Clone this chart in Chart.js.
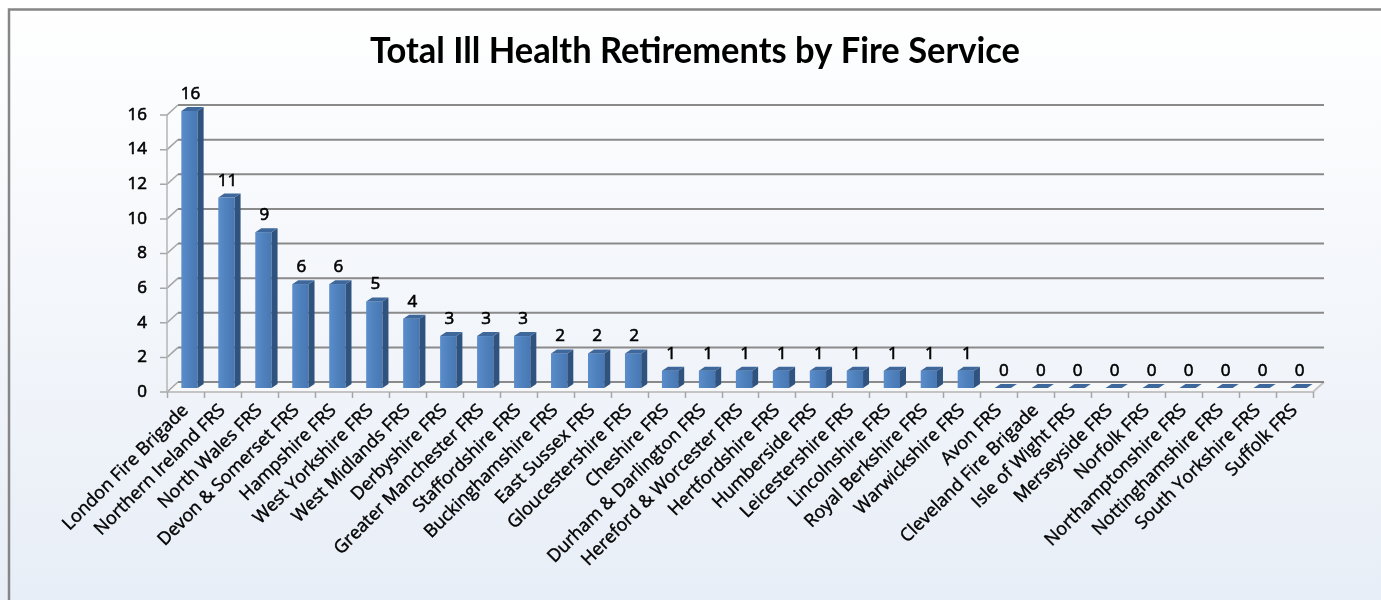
<!DOCTYPE html>
<html>
<head>
<meta charset="utf-8">
<script src="https://cdn.jsdelivr.net/npm/chart.js@4.4.1/dist/chart.umd.min.js"></script>
<style>
html, body { margin: 0; padding: 0; background: #fff; }
#wrap { width: 1381px; height: 600px; }
</style>
</head>
<body>
<div id="wrap"><canvas id="chart" width="1381" height="600"></canvas></div>
<script>
const chartTitle = 'Total Ill Health Retirements by Fire Service';

const services = [
    'London Fire Brigade', 'Northern Ireland FRS', 'North Wales FRS', 'Devon & Somerset FRS',
    'Hampshire FRS', 'West Yorkshire FRS', 'West Midlands FRS', 'Derbyshire FRS',
    'Greater Manchester FRS', 'Staffordshire FRS', 'Buckinghamshire FRS', 'East Sussex FRS',
    'Gloucestershire FRS', 'Cheshire FRS', 'Durham & Darlington FRS', 'Hereford & Worcester FRS',
    'Hertfordshire FRS', 'Humberside FRS', 'Leicestershire FRS', 'Lincolnshire FRS',
    'Royal Berkshire FRS', 'Warwickshire FRS', 'Avon FRS', 'Cleveland Fire Brigade',
    'Isle of Wight FRS', 'Merseyside FRS', 'Norfolk FRS', 'Northamptonshire FRS',
    'Nottinghamshire FRS', 'South Yorkshire FRS', 'Suffolk FRS'
];

const retirements = [
    16, 11, 9, 6, 6, 5, 4, 3, 3, 3, 2, 2, 2, 1, 1, 1,
    1, 1, 1, 1, 1, 1, 0, 0, 0, 0, 0, 0, 0, 0, 0
];

const yTicks = [0, 2, 4, 6, 8, 10, 12, 14, 16];

// depth of the back wall and of each bar (pixels)
const wall = { dx: 11, dy: -10 };
const shift = { dx: 4, dy: -4 };
const barDepth = { dx: 6, dy: -4 };

const titleFont = 'Lato, "Open Sans", sans-serif';
const labelFont = '"Open Sans", Lato, sans-serif';

function poly(ctx, pts, fill) {
    ctx.beginPath();
    ctx.moveTo(pts[0][0], pts[0][1]);
    for (let i = 1; i < pts.length; i++) ctx.lineTo(pts[i][0], pts[i][1]);
    ctx.closePath();
    ctx.fillStyle = fill;
    ctx.fill();
}

const frame3d = {
    id: 'frame3d',
    beforeDraw(chart) {
        const ctx = chart.ctx;
        const w = chart.width, h = chart.height;
        ctx.save();
        const bg = ctx.createLinearGradient(0, 0, 0, h);
        bg.addColorStop(0, '#ffffff');
        bg.addColorStop(1, '#e8eef7');
        ctx.fillStyle = bg;
        ctx.fillRect(0, 0, w, h);
        // outer border (top and left visible)
        ctx.strokeStyle = '#868686';
        ctx.lineWidth = 2.5;
        ctx.beginPath();
        ctx.moveTo(9, h);
        ctx.lineTo(9, 9.5);
        ctx.lineTo(w, 9.5);
        ctx.stroke();
        // title
        ctx.font = 'bold 36px ' + titleFont;
        const tw = ctx.measureText(chartTitle).width;
        ctx.translate(695, 63);
        ctx.scale(650 / tw, 1);
        ctx.fillStyle = '#000';
        ctx.textAlign = 'center';
        ctx.textBaseline = 'alphabetic';
        ctx.fillText(chartTitle, 0, 0);
        ctx.restore();
    },
    beforeDatasetsDraw(chart) {
        const ctx = chart.ctx;
        const a = chart.chartArea;
        const ys = chart.scales.y;
        ctx.save();
        // floor
        poly(ctx, [[a.left, a.bottom], [a.right, a.bottom], [a.right + wall.dx, a.bottom + wall.dy], [a.left + wall.dx, a.bottom + wall.dy]], '#f7f8fa');
        ctx.strokeStyle = '#c4c4c4';
        ctx.lineWidth = 2;
        ctx.beginPath();
        ctx.moveTo(a.left, a.bottom);
        ctx.lineTo(a.right, a.bottom);
        ctx.lineTo(a.right + wall.dx, a.bottom + wall.dy);
        ctx.stroke();
        // back wall grid lines
        yTicks.forEach(v => {
            const y = ys.getPixelForValue(v);
            ctx.strokeStyle = '#8a8a8a';
            ctx.lineWidth = 2;
            ctx.beginPath();
            ctx.moveTo(a.left + wall.dx, y + wall.dy);
            ctx.lineTo(a.right + wall.dx, y + wall.dy);
            ctx.stroke();
            // side wall connector and tick
            ctx.strokeStyle = '#a6a6a6';
            ctx.lineWidth = 1.5;
            ctx.beginPath();
            ctx.moveTo(a.left - 7, y);
            ctx.lineTo(a.left, y);
            ctx.lineTo(a.left + wall.dx, y + wall.dy);
            ctx.stroke();
        });
        // y axis line
        ctx.strokeStyle = '#b5b5b5';
        ctx.lineWidth = 1.5;
        ctx.beginPath();
        ctx.moveTo(a.left, a.top);
        ctx.lineTo(a.left, a.bottom);
        ctx.stroke();
        // x tick marks at category edges
        ctx.strokeStyle = '#a6a6a6';
        const step = (a.right - a.left) / services.length;
        for (let i = 0; i <= services.length; i++) {
            const x = Math.round(a.left + i * step) + 0.5;
            ctx.beginPath();
            ctx.moveTo(x, a.bottom);
            ctx.lineTo(x, a.bottom + 6);
            ctx.stroke();
        }
        ctx.restore();
    },
    afterDatasetsDraw(chart) {
        const ctx = chart.ctx;
        const meta = chart.getDatasetMeta(0);
        ctx.save();
        meta.data.forEach((bar, i) => {
            const bw = bar.width;
            const left = bar.x - bw / 2 + shift.dx;
            const right = left + bw;
            const top = bar.y + shift.dy;
            const bottom = bar.base + shift.dy;
            if (bottom - top > 0.5) {
                const g = ctx.createLinearGradient(left, 0, right, 0);
                g.addColorStop(0, '#5a8dcb');
                g.addColorStop(0.5, '#4f81bd');
                g.addColorStop(1, '#4878b3');
                ctx.fillStyle = g;
                ctx.fillRect(left, top, bw, bottom - top);
                poly(ctx, [[right, top], [right + barDepth.dx, top + barDepth.dy], [right + barDepth.dx, bottom + barDepth.dy], [right, bottom]], '#2f527f');
            }
            poly(ctx, [[left, top], [left + barDepth.dx, top + barDepth.dy], [right + barDepth.dx, top + barDepth.dy], [right, top]], '#3e679b');
            // value label
            const tx = bar.x + shift.dx + 1;
            const ty = top + barDepth.dy - 8;
            ctx.font = '17px ' + labelFont;
            ctx.textAlign = 'center';
            ctx.textBaseline = 'alphabetic';
            ctx.lineWidth = 0.6;
            ctx.strokeStyle = '#000';
            ctx.strokeText(String(retirements[i]), tx, ty);
            ctx.fillStyle = '#000';
            ctx.fillText(String(retirements[i]), tx, ty);
        });
        ctx.restore();
    }
};

new Chart(document.getElementById('chart'), {
    type: 'bar',
    data: {
        labels: services,
        datasets: [{
            data: retirements,
            backgroundColor: 'rgba(0,0,0,0)',
            borderWidth: 0,
            categoryPercentage: 1,
            barPercentage: 0.44
        }]
    },
    options: {
        responsive: false,
        animation: false,
        devicePixelRatio: 1,
        layout: { padding: { top: 115, right: 68, left: 0, bottom: 0 } },
        plugins: {
            legend: { display: false },
            tooltip: { enabled: false },
            title: { display: false }
        },
        scales: {
            x: {
                grid: { display: false, drawTicks: false },
                border: { display: false },
                ticks: {
                    autoSkip: false,
                    minRotation: 45,
                    maxRotation: 45,
                    padding: 8,
                    color: '#000',
                    textStrokeColor: '#1a1a1a',
                    textStrokeWidth: 0.5,
                    font: { family: labelFont, size: 18 }
                },
                afterFit: s => { s.height = 208; }
            },
            y: {
                min: 0,
                max: 16,
                grid: { display: false, drawTicks: false },
                border: { display: false },
                ticks: {
                    stepSize: 2,
                    padding: 20,
                    color: '#000',
                    textStrokeColor: '#000',
                    textStrokeWidth: 0.6,
                    font: { family: labelFont, size: 17 }
                },
                afterFit: s => { s.width = 167; }
            }
        }
    },
    plugins: [frame3d]
});
</script>
</body>
</html>
